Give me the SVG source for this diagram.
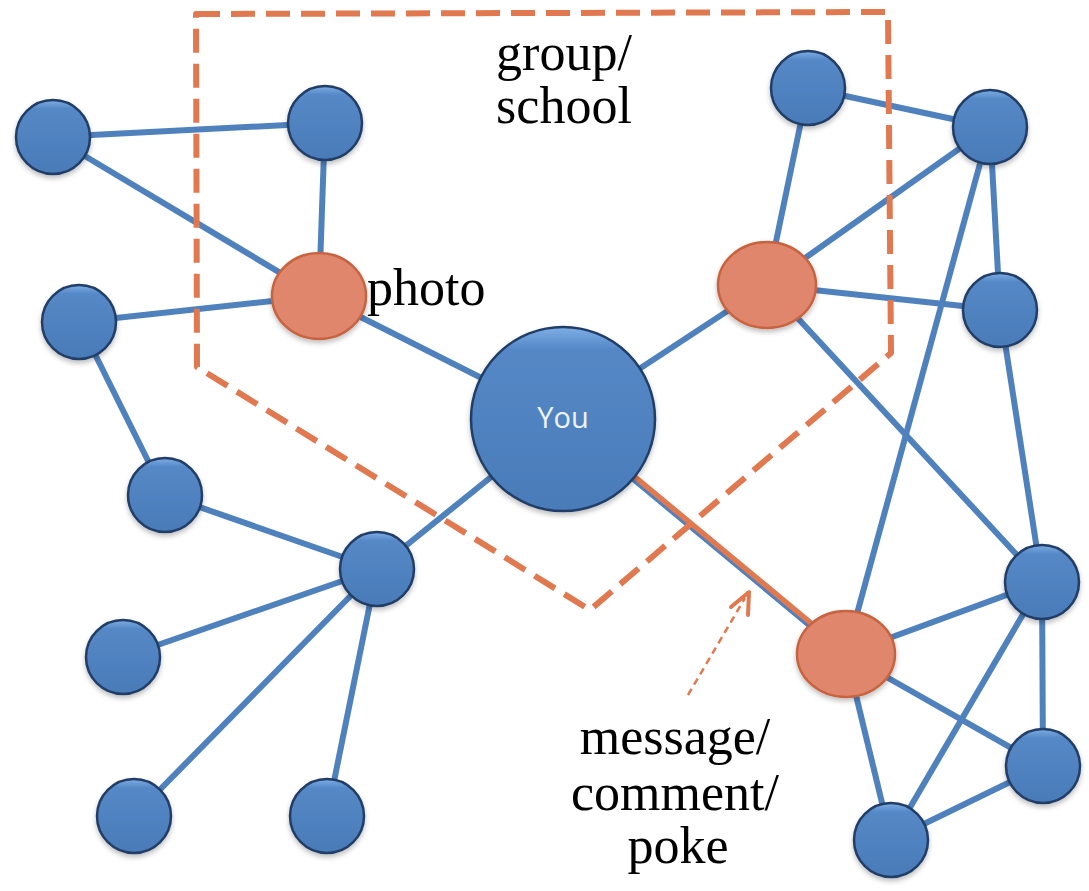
<svg xmlns="http://www.w3.org/2000/svg" width="1089" height="891" viewBox="0 0 1089 891">
  <defs>
    <linearGradient id="blueFill" x1="0" y1="0" x2="0" y2="1">
      <stop offset="0" stop-color="#7eaee6"/>
      <stop offset="0.12" stop-color="#5588c6"/>
      <stop offset="1" stop-color="#4a7bb9"/>
    </linearGradient>
    <filter id="shadow" x="-20%" y="-20%" width="140%" height="150%">
      <feDropShadow dx="0" dy="3" stdDeviation="2.5" flood-color="#000" flood-opacity="0.25"/>
    </filter>
    <style>
      .edge { stroke: #4f81bd; stroke-width: 6; fill: none; }
      .blue { fill: url(#blueFill); stroke: #203e66; stroke-width: 2.5; filter: url(#shadow); }
      .orange { fill: #e0866d; stroke: #c8633f; stroke-width: 2.5; filter: url(#shadow); }
      .lbl { font-family: "Liberation Serif", "Times New Roman", serif; font-size: 52px; fill: #000; }
      .you { font-family: "Open Sans", "Liberation Sans", sans-serif; font-size: 29px; fill: #eef4fb; }
      .border { fill: none; stroke: #e07850; stroke-width: 6; stroke-dasharray: 24 11; stroke-linejoin: round; }
    </style>
  </defs>
  <rect width="1089" height="891" fill="#ffffff"/>

  <g id="connectors">
    <line class="edge" x1="53" y1="137" x2="325" y2="123"/>
    <line class="edge" x1="53" y1="137" x2="319" y2="296"/>
    <line class="edge" x1="325" y1="123" x2="319" y2="296"/>
    <line class="edge" x1="79" y1="322" x2="319" y2="296"/>
    <line class="edge" x1="319" y1="296" x2="563" y2="419"/>
    <line class="edge" x1="79" y1="322" x2="165" y2="495"/>
    <line class="edge" x1="165" y1="495" x2="377" y2="569"/>
    <line class="edge" x1="377" y1="569" x2="563" y2="419"/>
    <line class="edge" x1="377" y1="569" x2="123" y2="657"/>
    <line class="edge" x1="377" y1="569" x2="134" y2="816"/>
    <line class="edge" x1="377" y1="569" x2="327" y2="816"/>
    <line class="edge" x1="563" y1="419" x2="767" y2="285"/>
    <line class="edge" x1="767" y1="285" x2="808" y2="88"/>
    <line class="edge" x1="767" y1="285" x2="990" y2="127"/>
    <line class="edge" x1="767" y1="285" x2="1000" y2="310"/>
    <line class="edge" x1="767" y1="285" x2="1042" y2="582"/>
    <line class="edge" x1="808" y1="88" x2="990" y2="127"/>
    <line class="edge" x1="990" y1="127" x2="1000" y2="310"/>
    <line class="edge" x1="990" y1="127" x2="846" y2="654"/>
    <line class="edge" x1="1000" y1="310" x2="1042" y2="582"/>
    <line class="edge" x1="846" y1="654" x2="1042" y2="582"/>
    <line class="edge" x1="846" y1="654" x2="1043" y2="766"/>
    <line class="edge" x1="846" y1="654" x2="891" y2="840"/>
    <line class="edge" x1="1042" y1="582" x2="1043" y2="766"/>
    <line class="edge" x1="1042" y1="582" x2="891" y2="840"/>
    <line class="edge" x1="1043" y1="766" x2="891" y2="840"/>
    <line x1="562" y1="421" x2="845" y2="656" stroke="#4f81bd" stroke-width="4"/>
    <line x1="564" y1="418" x2="847" y2="653" stroke="#e07850" stroke-width="5.5"/>
  </g>

  <polygon id="group-border" class="border" points="196,14 888,12 891,353 590,610 197,367"/>

  <g id="nodes">
    <g id="n1"><circle class="blue" cx="53" cy="137" r="37"/></g>
    <g id="n2"><circle class="blue" cx="325" cy="123" r="37"/></g>
    <g id="n3"><circle class="blue" cx="808" cy="88" r="37"/></g>
    <g id="n4"><circle class="blue" cx="990" cy="127" r="37"/></g>
    <g id="n5"><circle class="blue" cx="1000" cy="310" r="37"/></g>
    <g id="n6"><circle class="blue" cx="79" cy="322" r="37"/></g>
    <g id="n7"><circle class="blue" cx="165" cy="495" r="37"/></g>
    <g id="n8"><circle class="blue" cx="377" cy="569" r="37"/></g>
    <g id="n9"><circle class="blue" cx="123" cy="657" r="37"/></g>
    <g id="n10"><circle class="blue" cx="134" cy="816" r="37"/></g>
    <g id="n11"><circle class="blue" cx="327" cy="816" r="37"/></g>
    <g id="n12"><circle class="blue" cx="1042" cy="582" r="37"/></g>
    <g id="n13"><circle class="blue" cx="1043" cy="766" r="37"/></g>
    <g id="n14"><circle class="blue" cx="891" cy="840" r="37"/></g>
    <g id="you">
      <circle class="blue" cx="563" cy="419" r="92"/>
      <text class="you" x="563" y="428" text-anchor="middle">You</text>
    </g>
    <g id="photo"><ellipse class="orange" cx="319" cy="296" rx="47" ry="43"/></g>
    <g id="group-node"><ellipse class="orange" cx="767" cy="285" rx="49" ry="43"/></g>
    <g id="message-node"><ellipse class="orange" cx="846" cy="654" rx="49" ry="43"/></g>
  </g>

  <g id="arrow">
    <line x1="688" y1="695" x2="745" y2="598" stroke="#e07850" stroke-width="2.5" stroke-dasharray="7 5"/>
    <polyline points="731,607 749,592 748,615" fill="none" stroke="#e07850" stroke-width="4" stroke-linecap="round" stroke-linejoin="round"/>
  </g>

  <g id="labels">
    <text class="lbl" x="564" y="70" text-anchor="middle">group/</text>
    <text class="lbl" x="564" y="123" text-anchor="middle">school</text>
    <text class="lbl" x="367" y="305">photo</text>
    <text class="lbl" x="675" y="754" text-anchor="middle">message/</text>
    <text class="lbl" x="675" y="810" text-anchor="middle">comment/</text>
    <text class="lbl" x="678" y="863" text-anchor="middle">poke</text>
  </g>
</svg>
